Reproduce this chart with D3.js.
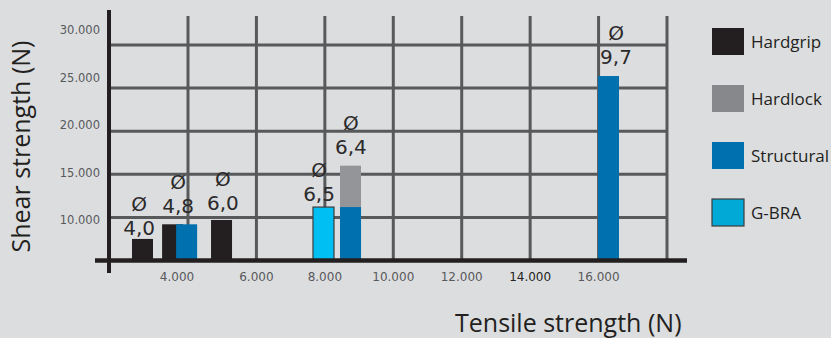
<!DOCTYPE html>
<html>
<head>
<meta charset="utf-8">
<script src="https://cdn.jsdelivr.net/npm/d3@7"></script>
<style>
  html, body { margin: 0; padding: 0; background: #dcdddf; }
  svg { display: block; }
</style>
</head>
<body>
<script>
// ---------- data ----------
const seriesNames = ["Hardgrip", "Hardlock", "Structural", "G-BRA"];
const seriesColors = ["#231f20", "#939598", "#0071ae", "#00bff2"];
const legendColors = ["#231f20", "#87888b", "#0071ae", "#00a9d6"];

// bars: series, tensile strength (N), shear strength (N)
const barSeries  = ["Hardgrip", "Hardgrip", "Structural", "Hardgrip", "G-BRA", "Hardlock", "Structural", "Structural"];
const barTensile = [2670, 3550, 3960, 4980, 7960, 8750, 8750, 16290];
const barShear   = [7500, 9200, 9200, 9700, 11200, 16000, 11200, 26400];

// diameter annotations
const diaText    = ["4,0", "4,8", "6,0", "6,5", "6,4", "9,7"];
const diaTensile = [2570, 3710, 5020, 7830, 8760, 16510];
const diaShear   = [8770, 11320, 11670, 12710, 18170, 28610];

const xTicks = [4000, 6000, 8000, 10000, 12000, 14000, 16000];
const xGrid  = [4000, 6000, 8000, 10000, 12000, 14000, 16000, 18000];
const yTicks = [10000, 15000, 20000, 25000, 30000];
const tickFmt = v => d3.format(",")(v).replace(/,/g, ".");

// ---------- layout ----------
const W = 831, H = 338;
const svg = d3.select("body").append("svg").attr("width", W).attr("height", H);
svg.append("rect").attr("width", W).attr("height", H).attr("fill", "#dcdddf");

const x = d3.scaleLinear().domain([4000, 18000]).range([188, 667]);
const y = d3.scaleLinear().domain([5000, 30000]).range([260.5, 45]);
const yLabel = d3.scaleLinear().domain([10000, 30000]).range([220, 30]);
const color = d3.scaleOrdinal().domain(seriesNames).range(seriesColors);

const axisX0 = x.invert(109);          // y-axis position in tensile units
const gridCol = "#58595b";
const axisCol = "#231f20";

// horizontal gridlines
svg.append("g").selectAll("line").data(yTicks).join("line")
  .attr("x1", x(axisX0)).attr("x2", x(18000))
  .attr("y1", d => y(d)).attr("y2", d => y(d))
  .attr("stroke", gridCol).attr("stroke-width", 3);

// vertical gridlines
svg.append("g").selectAll("line").data(xGrid).join("line")
  .attr("x1", d => x(d)).attr("x2", d => x(d))
  .attr("y1", 16).attr("y2", y(5000))
  .attr("stroke", gridCol).attr("stroke-width", 3);

// bars
const bw = 21;
const bars = barSeries.map((s, i) => ({ s, t: barTensile[i], v: barShear[i] }));
svg.append("g").selectAll("rect").data(bars).join("rect")
  .attr("x", d => x(d.t) - bw / 2)
  .attr("width", bw)
  .attr("y", d => y(d.v))
  .attr("height", d => y(5000) - y(d.v))
  .attr("fill", d => color(d.s))
  .attr("stroke", d => d.s === "G-BRA" ? "#3c3c3c" : "none")
  .attr("stroke-width", 1.2);

// axes lines
svg.append("line")
  .attr("x1", 95).attr("x2", 687)
  .attr("y1", y(5000)).attr("y2", y(5000))
  .attr("stroke", axisCol).attr("stroke-width", 4.5);
svg.append("line")
  .attr("x1", x(axisX0)).attr("x2", x(axisX0))
  .attr("y1", 10).attr("y2", 273)
  .attr("stroke", axisCol).attr("stroke-width", 4);

// y tick labels
svg.append("g").selectAll("text").data(yTicks).join("text")
  .attr("x", 100).attr("y", d => yLabel(d))
  .attr("dy", "0.35em")
  .attr("text-anchor", "end")
  .attr("font-family", "'DejaVu Sans', sans-serif")
  .attr("font-size", 11.5)
  .attr("fill", "#58595b")
  .text(tickFmt);

// x tick labels
svg.append("g").selectAll("text").data(xTicks).join("text")
  .attr("x", d => x(d) - (d === 4000 ? 11 : 0)).attr("y", 281)
  .attr("text-anchor", "middle")
  .attr("font-family", "'DejaVu Sans', sans-serif")
  .attr("font-size", 12)
  .attr("fill", d => d === 14000 ? "#231f20" : "#58595b")
  .text(tickFmt);

// diameter annotations
const dia = diaText.map((t, i) => ({ t, xv: diaTensile[i], yv: diaShear[i] }));
const dg = svg.append("g")
  .attr("font-family", "'DejaVu Sans', sans-serif")
  .attr("font-size", 20)
  .attr("fill", "#2b2a2b")
  .attr("text-anchor", "middle");
dg.selectAll("text.num").data(dia).join("text").attr("class", "num")
  .attr("x", d => x(d.xv)).attr("y", d => y(d.yv)).attr("dy", "0.36em")
  .text(d => d.t);
dg.selectAll("text.phi").data(dia).join("text").attr("class", "phi")
  .attr("x", d => x(d.xv)).attr("y", d => y(d.yv) - 24).attr("dy", "0.36em")
  .text("Ø");

// axis titles
svg.append("text")
  .attr("transform", "translate(30,146.5) rotate(-90)")
  .attr("text-anchor", "middle")
  .attr("font-family", "'Open Sans', sans-serif")
  .attr("font-size", 25)
  .attr("fill", "#231f20")
  .text("Shear strength (N)");
svg.append("text")
  .attr("x", 455).attr("y", 332)
  .attr("font-family", "'Open Sans', sans-serif")
  .attr("font-size", 25)
  .attr("fill", "#231f20")
  .text("Tensile strength (N)");

// legend
const lg = svg.append("g").selectAll("g").data(seriesNames).join("g")
  .attr("transform", (d, i) => `translate(712,${28 + i * 57})`);
lg.append("rect")
  .attr("width", 32).attr("height", 27)
  .attr("fill", (d, i) => legendColors[i])
  .attr("stroke", d => d === "G-BRA" ? "#3c3c3c" : "none")
  .attr("stroke-width", 1.2);
lg.append("text")
  .attr("x", 39).attr("y", 13.5).attr("dy", "0.36em")
  .attr("font-family", "'Open Sans', sans-serif")
  .attr("font-size", 17)
  .attr("fill", "#231f20")
  .text(d => d);
</script>
</body>
</html>
